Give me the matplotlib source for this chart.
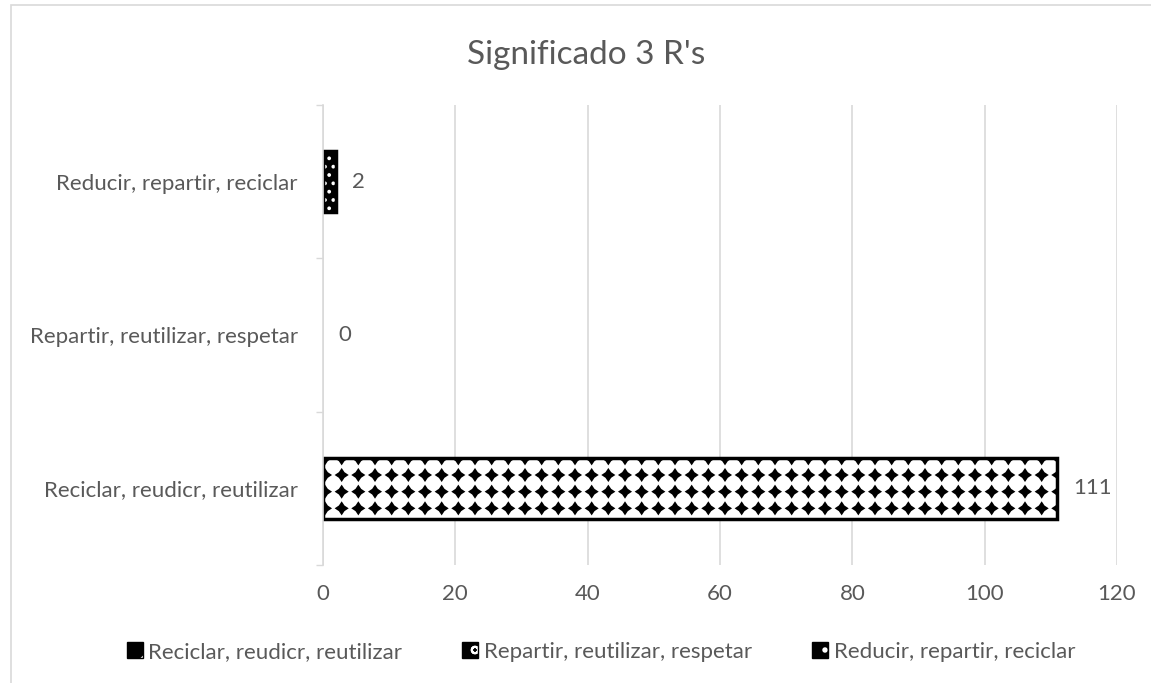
import matplotlib
matplotlib.use("Agg")
import numpy as np
import matplotlib.pyplot as plt
import matplotlib.hatch as mhatch
from matplotlib.path import Path
from matplotlib.patches import Rectangle, Patch

categories = ["Reciclar, reudicr, reutilizar", "Repartir, reutilizar, respetar", "Reducir, repartir, reciclar"]
values = [111, 0, 2]
xticks = [0, 20, 40, 60, 80, 100, 120]
title = "Significado 3 R's"


# custom "diamond grid" hatch, mapped on the '*' hatch character
class DiamondGrid(mhatch.HatchPatternBase):
    def __init__(self, hatch, density):
        self.n = hatch.count('*') * density
        self.shape = np.array([[0, -1], [0.4, -0.4], [1, 0], [0.4, 0.4], [0, 1],
                               [-0.4, 0.4], [-1, 0], [-0.4, -0.4], [0, -1]], float)
        self.num_vertices = 0 if self.n == 0 else (self.n + 1) ** 2 * len(self.shape)

    def set_vertices_and_codes(self, vertices, codes):
        r = 0.31 / self.n
        sv = self.shape * r
        sc = np.full(len(sv), Path.LINETO, dtype=Path.code_type)
        sc[0] = Path.MOVETO
        sc[-1] = Path.CLOSEPOLY
        parts, cparts = [], []
        for i in range(self.n + 1):
            for j in range(self.n + 1):
                parts.append(sv + [(i + 0.5) / self.n, (j + 0.5) / self.n])
                cparts.append(sc)
        np.concatenate(parts, out=vertices)
        np.concatenate(cparts, out=codes)


mhatch._hatch_types[:] = [h for h in mhatch._hatch_types if h.__name__ != 'Stars'] + [DiamondGrid]


def set_hc(p, c):
    if hasattr(p, 'set_hatchcolor'):
        p.set_hatchcolor(c)
    else:
        p._hatch_color = matplotlib.colors.to_rgba(c)


plt.rcParams['font.family'] = ['Lato', 'DejaVu Sans']
plt.rcParams['hatch.linewidth'] = 1.5
gray = '#595959'
bar_styles = [dict(face='white', hatchc='black', hatch='*'),
              dict(face='white', hatchc='black', hatch='*'),
              dict(face='black', hatchc='white', hatch='..')]
legend_styles = [dict(face='black', hatchc='white', hatch='/'),
                 dict(face='black', hatchc='white', hatch='o'),
                 dict(face='black', hatchc='white', hatch='.')]

fig = plt.figure(figsize=(11.51, 6.83), dpi=100)
fig.patch.set_facecolor('white')
fig.add_artist(Rectangle((10.5/1151, -0.05), 1.2, 1 - 5/683 + 0.05, transform=fig.transFigure,
                         fill=False, edgecolor='#d9d9d9', linewidth=1.2))

ax = fig.add_axes([323/1151, 1 - 565/683, (1117-323)/1151, (565-105)/683])
ypos = list(range(len(categories)))
for y, v, st in zip(ypos, values, bar_styles):
    bc = ax.barh(y, v, height=0.4, color=st['face'], edgecolor='black',
                 linewidth=(2.5 if v > 0 else 0), hatch=st['hatch'])
    for p in bc:
        set_hc(p, st['hatchc'])

ax.set_xlim(0, 120)
ax.set_ylim(-0.5, len(categories) - 0.5)
ax.set_xticks(xticks)
ax.set_yticks(ypos)
ax.set_yticklabels(categories)
ax.tick_params(axis='x', length=0, colors=gray, labelsize=16, pad=14)
ax.tick_params(axis='y', length=0, colors=gray, labelsize=16, pad=18)
ax.set_yticks([-0.5, 0.5, 1.5, 2.5], minor=True)
ax.tick_params(axis='y', which='minor', length=5, color='#d9d9d9', width=1)
ax.grid(axis='x', color='#d9d9d9', linewidth=1.2)
ax.set_axisbelow(True)
for s in ['top', 'right', 'bottom']:
    ax.spines[s].set_visible(False)
ax.spines['left'].set_color('#d9d9d9')
ax.spines['left'].set_linewidth(1.2)

for y, v in zip(ypos, values):
    ax.annotate(str(v), (v, y), xytext=(11, 0), textcoords='offset points',
                va='center', ha='left', color=gray, fontsize=16)

fig.text(586/1151, 1 - 55/683, title, ha='center', va='center', color=gray, fontsize=24)

handles = []
for st in legend_styles:
    p = Patch(facecolor=st['face'], edgecolor='black', hatch=st['hatch'])
    set_hc(p, st['hatchc'])
    handles.append(p)
leg = fig.legend(handles, categories, loc='center', bbox_to_anchor=(601/1151, 1 - 652/683), ncol=3,
                 frameon=False, fontsize=16, labelcolor=gray, handlelength=0.72, handleheight=0.72,
                 handletextpad=0.25, columnspacing=2.7)
for h, st in zip(leg.legend_handles, legend_styles):
    set_hc(h, st['hatchc'])

fig.savefig('out.png', dpi=100)
